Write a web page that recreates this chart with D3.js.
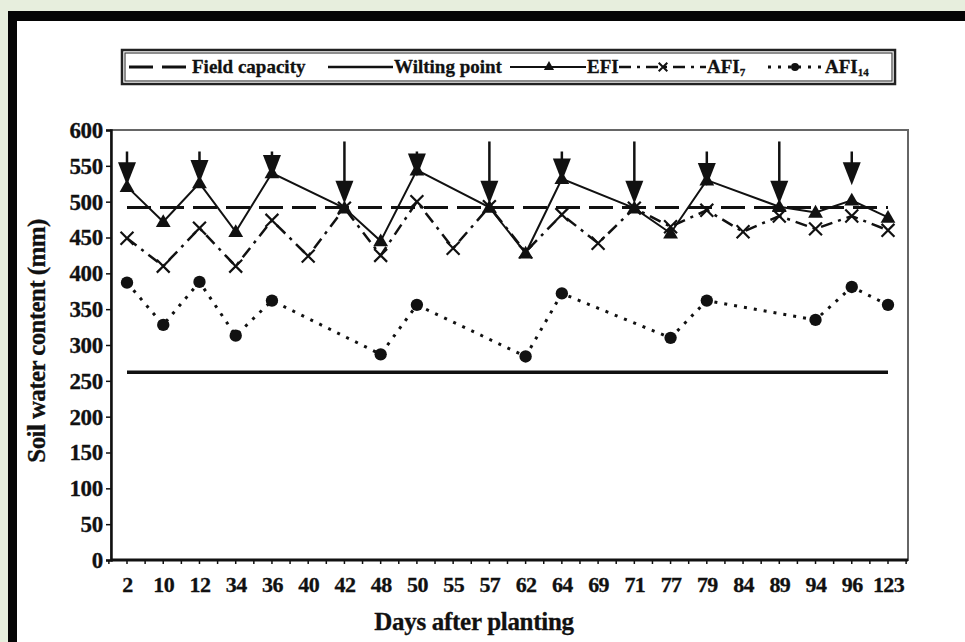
<!DOCTYPE html>
<html>
<head>
<meta charset="utf-8">
<script src="https://cdn.jsdelivr.net/npm/d3@7"></script>
<style>
  body { margin: 0; background: #e7eedd; }
  svg { display: block; }
  text { font-family: "Liberation Serif", "DejaVu Serif", serif; font-weight: bold; fill: #111; stroke: #111; stroke-width: 0.3px; }
</style>
</head>
<body>
<div id="chart"></div>
<script>
// categories on the x axis (days after planting)
const days = ['2', '10', '12', '34', '36', '40', '42', '48', '50', '55', '57', '62', '64', '69', '71', '77', '79', '84', '89', '94', '96', '123']

// reference lines (mm)
const fieldCapacity = 492
const wiltingPoint = 262

// EFI
const efiDays = ['2', '10', '12', '34', '36', '42', '48', '50', '57', '62', '64', '71', '77', '79', '89', '94', '96', '123']
const efiValues = [521, 472, 526, 458, 540, 491, 445, 544, 492, 428, 532, 491, 456, 530, 493, 485, 502, 478]

// AFI7
const afi7Days = ['2', '10', '12', '34', '36', '40', '42', '48', '50', '55', '57', '62', '64', '69', '71', '77', '79', '84', '89', '94', '96', '123']
const afi7Values = [449, 410, 463, 410, 474, 424, 491, 425, 500, 435, 493, 430, 482, 442, 491, 465, 488, 458, 480, 462, 480, 460]

// AFI14
const afi14Days = ['2', '10', '12', '34', '36', '48', '50', '62', '64', '77', '79', '94', '96', '123']
const afi14Values = [387, 328, 388, 313, 362, 287, 356, 284, 372, 310, 362, 335, 381, 356]

// irrigation arrows: day, top of shaft and tip (mm)
const arrowDays = ['2', '12', '36', '42', '50', '57', '64', '71', '79', '89', '96']
const arrowTop = [570, 570, 570, 584, 570, 584, 570, 584, 570, 584, 570]
const arrowTip = [523, 526, 533, 497, 535, 497, 528, 497, 522, 497, 523]

const yTicks = [0, 50, 100, 150, 200, 250, 300, 350, 400, 450, 500, 550, 600]

// dimensions
const w = 965
const h = 642
const pLeft = 111
const pRight = 908
const pTop = 130
const pBottom = 560

const svg = d3.select('#chart')
    .append('svg')
    .attr('width', w)
    .attr('height', h)

// scanned page frame
svg.append('rect').attr('x', 16).attr('y', 20).attr('width', w - 16).attr('height', h - 20).attr('fill', '#fff')
svg.append('rect').attr('x', 8).attr('y', 11).attr('width', w - 8).attr('height', 10).attr('fill', '#050505')
svg.append('rect').attr('x', 8).attr('y', 11).attr('width', 9).attr('height', h - 11).attr('fill', '#050505')

// scales
const x = d3.scalePoint()
    .domain(days)
    .range([127, 888])

const xIdx = d3.scaleLinear()
    .domain([0, days.length - 1])
    .range([127, 888])

const y = d3.scaleLinear()
    .domain([0, 600])
    .range([pBottom, pTop])

// plot border
svg.append('rect')
    .attr('x', pLeft)
    .attr('y', pTop)
    .attr('width', pRight - pLeft)
    .attr('height', pBottom - pTop)
    .attr('fill', 'none')
    .attr('stroke', '#666')
    .attr('stroke-width', 2)

// y axis
const yAxis = d3.axisLeft(y).tickValues(yTicks).tickSize(5).tickPadding(3)
const gy = svg.append('g')
    .attr('transform', `translate(${pLeft},0)`)
    .call(yAxis)
gy.select('.domain').attr('stroke', '#111').attr('stroke-width', 2.5)
gy.selectAll('.tick line').attr('stroke', '#111').attr('stroke-width', 1.5)
gy.selectAll('.tick text')
    .style('font-size', '23px')
    .style('font-family', '"Liberation Serif", serif')
    .style('font-weight', 'bold')
    .attr('fill', '#111')
    .attr('letter-spacing', '-0.3')

// x axis
const xAxis = d3.axisBottom(x).tickSize(0).tickPadding(16)
const gx = svg.append('g')
    .attr('transform', `translate(0,${pBottom})`)
    .call(xAxis)
gx.select('.domain').remove()
gx.selectAll('.tick text')
    .style('font-size', '22px')
    .style('font-family', '"Liberation Serif", serif')
    .style('font-weight', 'bold')
    .attr('fill', '#111')
    .attr('letter-spacing', '-0.6')

svg.append('line')
    .attr('x1', pLeft).attr('x2', pRight)
    .attr('y1', pBottom).attr('y2', pBottom)
    .attr('stroke', '#111').attr('stroke-width', 3)

// minor ticks along the x axis
svg.append('g')
    .selectAll('line')
    .data(d3.range(-0.5, days.length, 0.5))
    .enter()
    .append('line')
    .attr('x1', d => xIdx(d)).attr('x2', d => xIdx(d))
    .attr('y1', pBottom).attr('y2', pBottom + 4)
    .attr('stroke', '#111').attr('stroke-width', 1.5)

// axis titles
svg.append('text')
    .attr('transform', `translate(45,${(pTop + pBottom) / 2 - 4}) rotate(-90)`)
    .attr('text-anchor', 'middle')
    .style('font-size', '25px')
    .attr('letter-spacing', '-0.6')
    .text('Soil water content (mm)')

svg.append('text')
    .attr('x', 474)
    .attr('y', 630)
    .attr('text-anchor', 'middle')
    .style('font-size', '25px')
    .attr('letter-spacing', '-0.3')
    .text('Days after planting')

// reference lines
const flat = v => days.map(d => ({ day: d, v: v }))
const line = d3.line().x(d => x(d.day)).y(d => y(d.v))

svg.append('path')
    .datum(flat(fieldCapacity))
    .attr('d', line)
    .attr('fill', 'none')
    .attr('stroke', '#111')
    .attr('stroke-width', 3)
    .attr('stroke-dasharray', '24,9')

svg.append('path')
    .datum(flat(wiltingPoint))
    .attr('d', line)
    .attr('fill', 'none')
    .attr('stroke', '#111')
    .attr('stroke-width', 3.5)

// series
const pairs = (ds, vs) => ds.map((d, i) => ({ day: d, v: vs[i] }))
const afi14 = pairs(afi14Days, afi14Values)
const afi7 = pairs(afi7Days, afi7Values)
const efi = pairs(efiDays, efiValues)

svg.append('path')
    .datum(afi14)
    .attr('d', line)
    .attr('fill', 'none')
    .attr('stroke', '#111')
    .attr('stroke-width', 3)
    .attr('stroke-dasharray', '3,7')

svg.append('path')
    .datum(afi7)
    .attr('d', line)
    .attr('fill', 'none')
    .attr('stroke', '#111')
    .attr('stroke-width', 2.5)
    .attr('stroke-dasharray', '12,6,3,6')

svg.append('path')
    .datum(efi)
    .attr('d', line)
    .attr('fill', 'none')
    .attr('stroke', '#111')
    .attr('stroke-width', 2)

// markers
svg.append('g')
    .selectAll('path')
    .data(afi14)
    .enter()
    .append('path')
    .attr('transform', d => `translate(${x(d.day)},${y(d.v)})`)
    .attr('d', d3.symbol(d3.symbolCircle, 120))
    .attr('fill', '#111')

svg.append('g')
    .selectAll('path')
    .data(afi7)
    .enter()
    .append('path')
    .attr('transform', d => `translate(${x(d.day)},${y(d.v)})`)
    .attr('d', d3.symbol(d3.symbolTimes, 110))
    .attr('fill', 'none')
    .attr('stroke', '#111')
    .attr('stroke-width', 2.2)

svg.append('g')
    .selectAll('path')
    .data(efi)
    .enter()
    .append('path')
    .attr('transform', d => `translate(${x(d.day)},${y(d.v) + 1})`)
    .attr('d', d3.symbol(d3.symbolTriangle, 95))
    .attr('fill', '#111')

// irrigation arrows
const arrows = arrowDays.map((d, i) => ({ day: d, top: arrowTop[i], tip: arrowTip[i] }))
const ga = svg.append('g')
ga.selectAll('line')
    .data(arrows)
    .enter()
    .append('line')
    .attr('x1', d => x(d.day)).attr('x2', d => x(d.day))
    .attr('y1', d => y(d.top)).attr('y2', d => y(d.tip) - 10)
    .attr('stroke', '#111')
    .attr('stroke-width', 2.5)
ga.selectAll('path')
    .data(arrows)
    .enter()
    .append('path')
    .attr('d', d => {
        const cx = x(d.day)
        const ty = y(d.tip)
        return `M${cx - 9},${ty - 23} L${cx + 9},${ty - 23} L${cx},${ty} Z`
    })
    .attr('fill', '#111')

// legend
const lg = svg.append('g')
lg.append('rect')
    .attr('x', 122).attr('y', 50).attr('width', 773).attr('height', 34)
    .attr('fill', '#fff').attr('stroke', '#222').attr('stroke-width', 2.5)
lg.append('rect')
    .attr('x', 125).attr('y', 53).attr('width', 767).attr('height', 28)
    .attr('fill', 'none').attr('stroke', '#444').attr('stroke-width', 1.2)

const ly = 67
const lfs = '19px'
lg.append('line').attr('x1', 129).attr('x2', 186).attr('y1', ly).attr('y2', ly)
    .attr('stroke', '#111').attr('stroke-width', 3).attr('stroke-dasharray', '24,9')
lg.append('text').attr('x', 192).attr('y', ly + 6).style('font-size', lfs).text('Field capacity')

lg.append('line').attr('x1', 328).attr('x2', 393).attr('y1', ly).attr('y2', ly)
    .attr('stroke', '#111').attr('stroke-width', 2.5)
lg.append('text').attr('x', 394).attr('y', ly + 6).style('font-size', lfs).text('Wilting point')

lg.append('line').attr('x1', 510).attr('x2', 586).attr('y1', ly).attr('y2', ly)
    .attr('stroke', '#111').attr('stroke-width', 2)
lg.append('path').attr('transform', `translate(549,${ly})`).attr('d', d3.symbol(d3.symbolTriangle, 45)).attr('fill', '#111')
lg.append('text').attr('x', 587).attr('y', ly + 6).style('font-size', lfs).text('EFI')

lg.append('line').attr('x1', 619).attr('x2', 706).attr('y1', ly).attr('y2', ly)
    .attr('stroke', '#111').attr('stroke-width', 2.5).attr('stroke-dasharray', '12,6,3,6')
lg.append('path').attr('transform', `translate(663,${ly})`).attr('d', d3.symbol(d3.symbolTimes, 50))
    .attr('fill', 'none').attr('stroke', '#111').attr('stroke-width', 2)
const t7 = lg.append('text').attr('x', 707).attr('y', ly + 6).style('font-size', lfs)
t7.append('tspan').text('AFI')
t7.append('tspan').attr('dy', 3).style('font-size', '11px').text('7')

lg.append('line').attr('x1', 768).attr('x2', 823).attr('y1', ly).attr('y2', ly)
    .attr('stroke', '#111').attr('stroke-width', 3).attr('stroke-dasharray', '3,7')
lg.append('path').attr('transform', `translate(795,${ly})`).attr('d', d3.symbol(d3.symbolCircle, 50)).attr('fill', '#111')
const t14 = lg.append('text').attr('x', 825).attr('y', ly + 6).style('font-size', lfs)
t14.append('tspan').text('AFI')
t14.append('tspan').attr('dy', 3).style('font-size', '11px').text('14')
</script>
</body>
</html>
